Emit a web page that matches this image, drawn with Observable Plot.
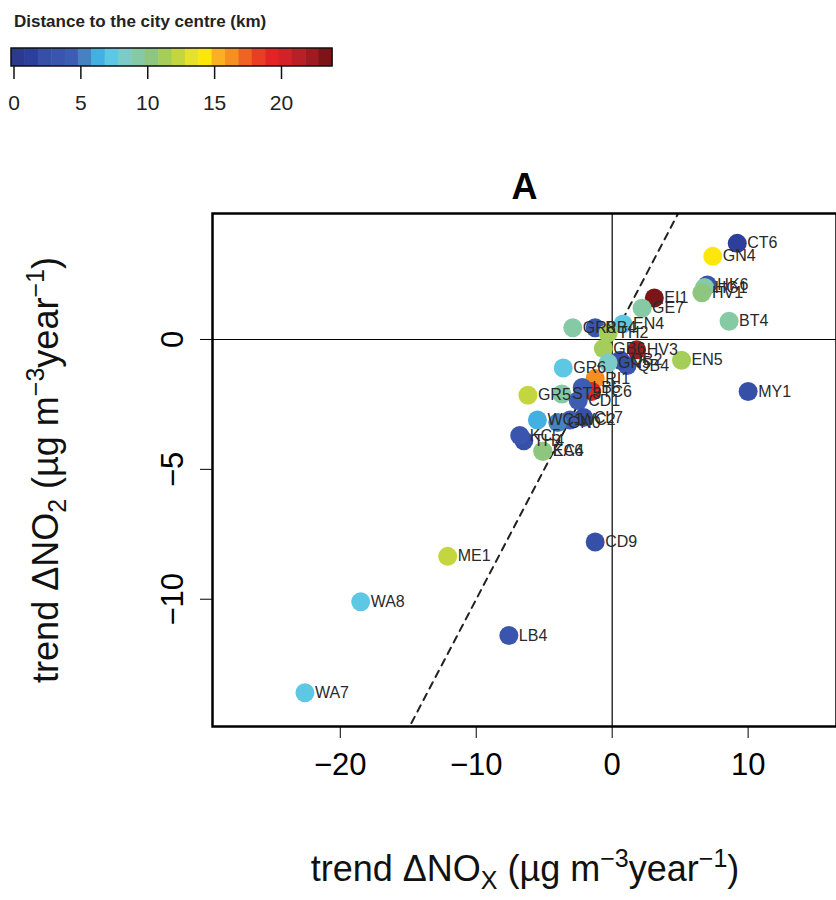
<!DOCTYPE html>
<html><head><meta charset="utf-8">
<script src="https://cdn.jsdelivr.net/npm/d3@7"></script>
<script src="https://cdn.jsdelivr.net/npm/@observablehq/plot@0.6"></script>
<style>body{margin:0;background:#fff;font-family:"Liberation Sans",Arial,sans-serif}#wrap{position:relative;width:836px;height:900px;overflow:hidden}#leg{position:absolute;left:0;top:0}</style>
</head><body><div id="wrap"><div id="chart"></div><svg id="leg" width="360" height="120"></svg></div>
<script>
const names = ["CT6","GN4","HK6","HG1","HV1","EI1","GE7","EN4","BT4","HV3","EN5","QB4","QB2","MY1","CD9","ME1","WA8","LB4","WA7",
 "GR8","RB4","TH2","GB6","GN5","GR6","RI1","TC6","ST3","GR5","LB5","CD1","CL7","WC2","WC1","GN0","TH4","KC4","EA6","KC5"];
const nox = [9.2,7.4,7.0,6.8,6.6,3.1,2.2,0.8,8.6,1.8,5.1,1.1,0.6,10.0,-1.25,-12.1,-18.5,-7.6,-22.6,
 -2.9,-1.25,-0.3,-0.65,-0.3,-3.6,-1.25,-1.5,-3.7,-6.2,-2.2,-2.5,-2.1,-3.1,-5.5,-4.0,-6.5,-5.1,-5.1,-6.8];
const no2 = [3.7,3.2,2.1,2.0,1.8,1.6,1.2,0.6,0.7,-0.4,-0.8,-1.0,-0.8,-2.0,-7.8,-8.35,-10.1,-11.4,-13.6,
 0.45,0.45,0.25,-0.35,-0.9,-1.1,-1.5,-2.0,-2.1,-2.15,-1.85,-2.35,-3.0,-3.1,-3.1,-3.2,-3.9,-4.3,-4.3,-3.7];
const dist = [1,14,3,9,10,23,9,7,9,22,11,3,2,2,2,12,7,3,7,
 9,3,11,11,8,7,16,19,9,12,4,4,2,4,6,5,2,11,10,3];
const palette = ["#2b3a8a","#2c3f9a","#3650a8","#3a55ad","#3c5db2","#4682c0","#42b0e0","#5ec8e4","#7ccbc8","#86c9a5","#8ec680","#a4cd5a","#c3d640","#e6e22c","#fde60a","#fbb022","#f68f21","#ef6423","#e93d24","#e52325","#d32127","#b81f27","#9e1b22","#7c1517"];
const legendTicks = [0,5,10,15,20];
const yTicks = [0,-5,-10];
const xTicks = [-20,-10,0,10];
const data = names.map((n,i)=>({n,x:nox[i],y:no2[i],d:dist[i]}));
const xDom=[-29.4,16.5], yDom=[-14.9,4.85];
const diag = [xDom[0], xDom[1]].map(v=>({x:v,y:v}));
const col = d => palette[Math.min(23,Math.floor(d))];
const chart = Plot.plot({
  width:836,height:900,marginTop:213,marginLeft:212,marginRight:0,marginBottom:174,
  style:{fontFamily:"Liberation Sans, Arial, sans-serif",background:"white",overflow:"visible"},
  x:{domain:xDom},y:{domain:yDom},
  marks:[
    Plot.ruleX([0],{stroke:"black",strokeWidth:1.2}),
    Plot.ruleY([0],{stroke:"black",strokeWidth:1.2}),
    Plot.line(diag,{x:"x",y:"y",stroke:"#222",strokeWidth:2,strokeDasharray:"7,6",clip:true}),
    Plot.dot(data,{x:"x",y:"y",r:9.5,fill:d=>col(d.d),stroke:"none"}),
    Plot.text(data,{x:"x",y:"y",text:"n",dx:10,textAnchor:"start",fontSize:16,fill:"#2a2a2a"}),
    Plot.frame({stroke:"black",strokeWidth:2.5}),
    Plot.axisX({ticks:xTicks,tickSize:12,tickPadding:14,fontSize:31,label:null,tickFormat:d=>d<0?"−"+(-d):d}),
    Plot.axisY({ticks:yTicks,tickSize:12,tickPadding:18,fontSize:31,label:null,tickRotate:-90,tickFormat:d=>d<0?"−"+(-d):d}),
    Plot.text(["A"],{frameAnchor:"top",dy:-40,fontSize:36,fontWeight:"bold",fill:"black"})
  ]
});
document.getElementById("chart").append(chart);
const svg=d3.select(chart);
const xt=svg.append("text").attr("x",525).attr("y",881).attr("text-anchor","middle").attr("font-size",36).attr("fill","#111");
xt.append("tspan").text("trend ΔNO");
xt.append("tspan").text("X").attr("font-size",25).attr("dy",8);
xt.append("tspan").text(" (µg m").attr("dy",-8);
xt.append("tspan").text("−3").attr("font-size",25).attr("dy",-14);
xt.append("tspan").text("year").attr("dy",14);
xt.append("tspan").text("−1").attr("font-size",25).attr("dy",-14);
xt.append("tspan").text(")").attr("dy",14);
const yt=svg.append("text").attr("transform","translate(58,470) rotate(-90)").attr("text-anchor","middle").attr("font-size",36).attr("fill","#111");
yt.append("tspan").text("trend ΔNO");
yt.append("tspan").text("2").attr("font-size",25).attr("dy",8);
yt.append("tspan").text(" (µg m").attr("dy",-8);
yt.append("tspan").text("−3").attr("font-size",25).attr("dy",-14);
yt.append("tspan").text("year").attr("dy",14);
yt.append("tspan").text("−1").attr("font-size",25).attr("dy",-14);
yt.append("tspan").text(")").attr("dy",14);
const leg=d3.select("#leg");
const ls=d3.scaleLinear().domain([0,24]).range([11,332]);
leg.append("text").attr("x",14).attr("y",27).attr("font-size",17).attr("font-weight","bold").attr("fill","#222").text("Distance to the city centre (km)");
leg.selectAll("rect.c").data(palette).join("rect").attr("x",(d,i)=>ls(i)).attr("width",ls(1)-ls(0)+0.5).attr("y",48).attr("height",18).attr("fill",d=>d);
leg.append("rect").attr("x",11).attr("y",48).attr("width",321).attr("height",18).attr("fill","none").attr("stroke","#111").attr("stroke-width",1.5);
leg.selectAll("line.t").data(legendTicks).join("line").attr("x1",d=>ls(d)+3).attr("x2",d=>ls(d)+3).attr("y1",66).attr("y2",79).attr("stroke","#111").attr("stroke-width",1.5);
leg.selectAll("text.t").data(legendTicks).join("text").attr("x",d=>ls(d)+3).attr("y",110).attr("text-anchor","middle").attr("font-size",21).attr("fill","#222").text(d=>d);
</script></body></html>
